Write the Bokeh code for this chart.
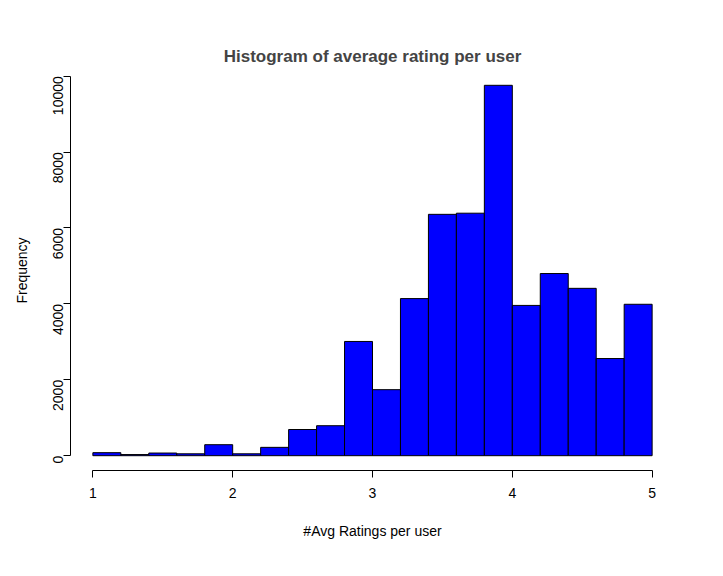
import math
from bokeh.plotting import figure
from bokeh.models import FixedTicker, Range1d
from bokeh.embed import file_html
from bokeh.resources import INLINE

# histogram of average rating per user, bins of width 0.2
edges = [1.0, 1.2, 1.4, 1.6, 1.8, 2.0, 2.2, 2.4, 2.6, 2.8, 3.0,
         3.2, 3.4, 3.6, 3.8, 4.0, 4.2, 4.4, 4.6, 4.8, 5.0]
counts = [80, 30, 70, 50, 290, 50, 220, 690, 790, 3010, 1740,
          4140, 6360, 6390, 9760, 3960, 4800, 4410, 2560, 3990]
x_ticks = [1, 2, 3, 4, 5]
y_ticks = [0, 2000, 4000, 6000, 8000, 10000]

font = "Liberation Sans"

p = figure(frame_width=604, frame_height=400,
           min_border_left=70, min_border_top=70, min_border_right=25,
           min_border_bottom=80,
           x_range=Range1d(0.84, 5.16), y_range=Range1d(-390, 10150),
           title="Histogram of average rating per user",
           output_backend="svg", toolbar_location=None)

p.quad(left=edges[:-1], right=edges[1:], bottom=0, top=counts,
       fill_color="#0000ff", line_color="black", line_width=1)

p.title.align = "center"
p.title.text_font = font
p.title.text_font_size = "17px"
p.title.text_font_style = "bold"
p.title.offset = -10

p.xgrid.visible = False
p.ygrid.visible = False
p.outline_line_color = None

p.xaxis.ticker = FixedTicker(ticks=x_ticks)
p.yaxis.ticker = FixedTicker(ticks=y_ticks)
p.xaxis.bounds = (1, 5)
p.yaxis.bounds = (0, 10000)
p.yaxis.major_label_orientation = math.pi / 2
p.xaxis.axis_label = "#Avg Ratings per user"
p.yaxis.axis_label = "Frequency"
for ax in (p.xaxis, p.yaxis):
    ax.minor_tick_line_color = None
    ax.major_tick_out = 7
    ax.major_tick_in = 0
    ax.major_label_text_font = font
    ax.major_label_text_font_size = "14px"
    ax.major_label_text_color = "black"
    ax.axis_label_text_font = font
    ax.axis_label_text_font_size = "14px"
    ax.axis_label_text_font_style = "normal"
    ax.axis_label_text_color = "black"
    ax.axis_line_color = "black"
    ax.major_tick_line_color = "black"
p.xaxis.major_label_standoff = 10
p.xaxis.axis_label_standoff = 22
p.yaxis.axis_label_standoff = 16

open("out.html", "w").write(file_html(p, INLINE))
